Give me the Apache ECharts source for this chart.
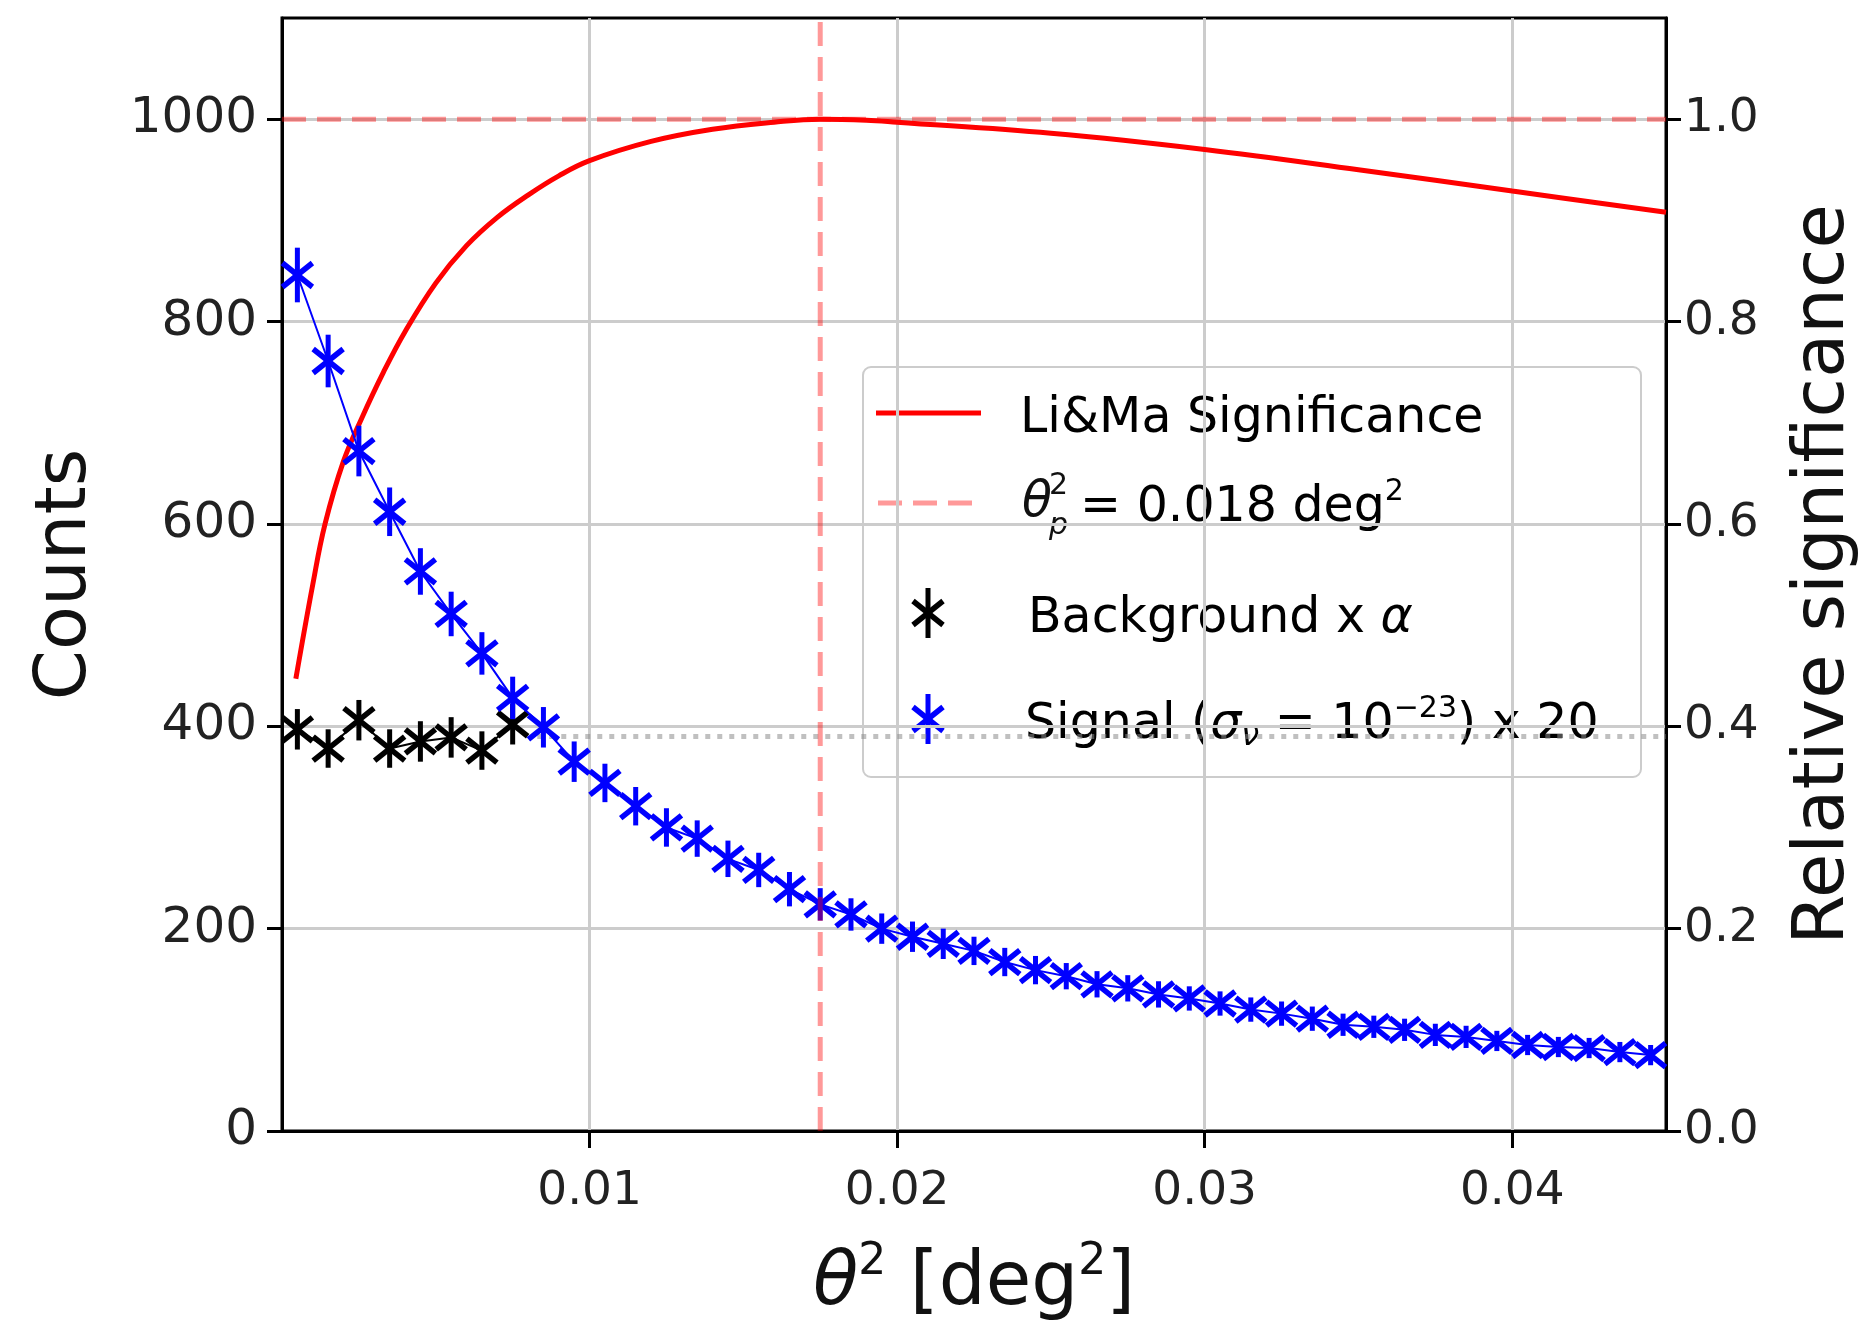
<!DOCTYPE html>
<html>
<head>
<meta charset="utf-8">
<script src="https://cdn.jsdelivr.net/npm/echarts@6/dist/echarts.min.js"></script>
<style>
html,body{margin:0;padding:0;background:#fff;}
#chart{width:1869px;height:1335px;}
</style>
</head>
<body>
<div id="chart"></div>
<script>
// ---- data ----
const binCenters = [0.0005,0.0015,0.0025,0.0035,0.0045,0.0055,0.0065,0.0075,0.0085,0.0095,
  0.0105,0.0115,0.0125,0.0135,0.0145,0.0155,0.0165,0.0175,0.0185,0.0195,
  0.0205,0.0215,0.0225,0.0235,0.0245,0.0255,0.0265,0.0275,0.0285,0.0295,
  0.0305,0.0315,0.0325,0.0335,0.0345,0.0355,0.0365,0.0375,0.0385,0.0395,
  0.0405,0.0415,0.0425,0.0435,0.0445];
const signalCounts = [846,761,672,612,553,511,472,428,399,365,
  344,321,300,289,269,258,239,224,214,200,
  192,185,178,167,159,153,145,141,135,131,
  126,120,116,111,105,103,100,95,93,89,
  85,83,82,78,75];
const signalErrors = [27,26,25,24,23,22,21,21,20,20,
  19,19,19,18,18,17,17,16,16,15,
  15,15,14,14,14,13,13,13,13,12,
  12,12,12,12,11,11,11,11,11,10,
  10,10,10,10,10];
const bkgCenters = [0.0005,0.0015,0.0025,0.0035,0.0045,0.0055,0.0065,0.0075];
const bkgCounts = [397,378,406,378,385,389,376,402];
const bkgErrors = [20,19,20,19,20,20,19,20];
const lmX = [0.00045,0.001,0.0014,0.002,0.0026,0.0033,0.004,0.005,0.006,0.007,0.008,0.009,0.010,0.012,0.014,0.016,0.0175,0.019,0.020,0.025,0.030,0.035,0.040,0.045];
const lmY = [0.447,0.540,0.600,0.662,0.705,0.750,0.790,0.838,0.875,0.903,0.925,0.944,0.959,0.978,0.990,0.997,1.0,0.999,0.997,0.986,0.970,0.950,0.929,0.908];
const thetaCut = 0.0175;
const refLevel = 1.0;
const bkgLevel = 390;
const bkgLevelStart = 0.0083;
const xTicks = [0.01,0.02,0.03,0.04];
const countTicks = [0,200,400,600,800,1000];
const relTicks = [0,0.2,0.4,0.6,0.8,1.0];
const xMin = 0, xMax = 0.045, countMax = 1100, relMax = 1.1;

const FONT = 'DejaVu Sans';
const chart = echarts.init(document.getElementById('chart'));

function starRenderer(color) {
  return function (params, api) {
    const x = api.value(0), y = api.value(1), e = api.value(2);
    const p = api.coord([x, y]);
    const t = api.coord([x, y + e]);
    const b = api.coord([x, y - e]);
    const hw = 15, hh = 12;
    const st = {stroke: color, lineWidth: 5.5};
    return {type: 'group', children: [
      {type: 'line', shape: {x1: p[0], y1: t[1], x2: p[0], y2: b[1]}, style: {stroke: color, lineWidth: 5}},
      {type: 'line', shape: {x1: p[0]-hw, y1: p[1]-hh, x2: p[0]+hw, y2: p[1]+hh}, style: st},
      {type: 'line', shape: {x1: p[0]-hw, y1: p[1]+hh, x2: p[0]+hw, y2: p[1]-hh}, style: st}
    ]};
  };
}
function iconStar(cx, cy, color) {
  const hw = 15, hh = 12, e = 25;
  return [
    {type: 'line', shape: {x1: cx, y1: cy-e, x2: cx, y2: cy+e}, style: {stroke: color, lineWidth: 5}},
    {type: 'line', shape: {x1: cx-hw, y1: cy-hh, x2: cx+hw, y2: cy+hh}, style: {stroke: color, lineWidth: 5.5}},
    {type: 'line', shape: {x1: cx-hw, y1: cy+hh, x2: cx+hw, y2: cy-hh}, style: {stroke: color, lineWidth: 5.5}}
  ];
}
const legRich = {
  n: {fontSize: 49, fontFamily: FONT, color: '#111', padding: [20,0,0,0], verticalAlign: 'top'},
  i: {fontSize: 49, fontFamily: FONT, fontStyle: 'italic', color: '#111', padding: [20,0,0,0], verticalAlign: 'top'},
  s: {fontSize: 30, fontFamily: FONT, color: '#111', padding: [13,0,0,0], verticalAlign: 'top'},
  b: {fontSize: 32, fontFamily: FONT, fontStyle: 'italic', color: '#111', padding: [40,0,0,0], verticalAlign: 'top'}
};
function richText(x, yCenter, text) {
  return {type: 'text', x: x, y: yCenter - 38, style: {text: text, rich: legRich, verticalAlign: 'top', align: 'left'}};
}

const option = {
  animation: false,
  backgroundColor: '#ffffff',
  textStyle: {fontFamily: FONT},
  grid: {left: 282, right: 203, top: 18, bottom: 204, show: true, borderColor: '#000', borderWidth: 3, backgroundColor: 'transparent', outerBoundsMode: 'none', containLabel: false},
  xAxis: {
    type: 'value', min: xMin, max: xMax, interval: 0.01,
    name: '{i|θ}{s|2}{n| [deg}{s|2}{n|]}',
    nameLocation: 'middle', nameGap: 110, nameMoveOverlap: false,
    nameTextStyle: {rich: {
      i: {fontSize: 74, fontFamily: FONT, fontStyle: 'italic', color: '#111', padding: [7,0,0,0], verticalAlign: 'top'},
      n: {fontSize: 74, fontFamily: FONT, color: '#111', padding: [7,0,0,0], verticalAlign: 'top'},
      s: {fontSize: 44, fontFamily: FONT, color: '#111', padding: [0,0,0,0], verticalAlign: 'top'}
    }},
    axisLine: {show: true, onZero: false, lineStyle: {color: '#000', width: 3}},
    axisTick: {show: true, inside: false, length: 17, lineStyle: {color: '#000', width: 3}, customValues: xTicks},
    axisLabel: {show: true, margin: 37, fontSize: 47, fontFamily: FONT, color: '#222', customValues: xTicks,
      formatter: v => (v > 0.001 && v < 0.0449) ? v.toFixed(2) : ''},
    splitLine: {show: true, lineStyle: {color: '#cccccc', width: 3}}
  },
  yAxis: [
    {
      type: 'value', min: 0, max: countMax, interval: 200, position: 'left',
      name: 'Counts', nameLocation: 'middle', nameRotate: 90, nameGap: 180, nameMoveOverlap: false,
      nameTextStyle: {fontSize: 72, fontFamily: FONT, color: '#111'},
      axisLine: {show: true, onZero: false, lineStyle: {color: '#000', width: 3}},
      axisTick: {show: true, inside: false, length: 15, lineStyle: {color: '#000', width: 3}, customValues: countTicks},
      axisLabel: {show: true, margin: 25, fontSize: 50, fontFamily: FONT, color: '#222', customValues: countTicks,
        formatter: v => v <= 1000 ? String(v) : ''},
      splitLine: {show: true, lineStyle: {color: '#cccccc', width: 3}}
    },
    {
      type: 'value', min: 0, max: relMax, interval: 0.2, position: 'right',
      name: 'Relative significance', nameLocation: 'middle', nameRotate: 90, nameGap: 122, nameMoveOverlap: false,
      nameTextStyle: {fontSize: 72, fontFamily: FONT, color: '#111'},
      axisLine: {show: true, onZero: false, lineStyle: {color: '#000', width: 3}},
      axisTick: {show: true, inside: false, length: 15, lineStyle: {color: '#000', width: 3}, customValues: relTicks},
      axisLabel: {show: true, margin: 18, fontSize: 47, fontFamily: FONT, color: '#222', customValues: relTicks,
        formatter: v => v <= 1.0001 ? v.toFixed(1) : ''},
      splitLine: {show: false}
    }
  ],
  series: [
    {
      name: 'bkg level', type: 'line', z: 2, symbol: 'none', silent: true,
      data: [[bkgLevelStart, bkgLevel], [xMax, bkgLevel]],
      lineStyle: {color: 'rgba(140,140,140,0.55)', width: 5, type: [5, 7]}
    },
    {
      name: 'Li&Ma Significance', type: 'line', yAxisIndex: 1, z: 3, symbol: 'none', smooth: 0.4,
      data: lmX.map((x, i) => [x, lmY[i]]),
      lineStyle: {color: '#ff0000', width: 5}, itemStyle: {color: '#ff0000'}
    },
    {
      name: 'Background x α', type: 'line', z: 4, symbol: 'none',
      data: bkgCenters.map((x, i) => [x, bkgCounts[i]]),
      lineStyle: {color: '#000', width: 2}, itemStyle: {color: '#000'}
    },
    {
      name: 'Background x α', type: 'custom', z: 5,
      data: bkgCenters.map((x, i) => [x, bkgCounts[i], bkgErrors[i]]),
      encode: {x: 0, y: 1},
      renderItem: starRenderer('#000000'), itemStyle: {color: '#000'}
    },
    {
      name: 'Signal', type: 'line', z: 6, symbol: 'none',
      data: binCenters.map((x, i) => [x, signalCounts[i]]),
      lineStyle: {color: '#0000ff', width: 2}, itemStyle: {color: '#0000ff'}
    },
    {
      name: 'Signal', type: 'custom', z: 7,
      data: binCenters.map((x, i) => [x, signalCounts[i], signalErrors[i]]),
      encode: {x: 0, y: 1},
      renderItem: starRenderer('#0000ff'), itemStyle: {color: '#0000ff'}
    },
    {
      name: 'theta cut', type: 'line', z: 8, symbol: 'none',
      data: [[thetaCut, 0], [thetaCut, countMax]],
      lineStyle: {color: 'rgba(255,0,0,0.4)', width: 5, type: [24, 11]}
    },
    {
      name: 'theta cut', type: 'line', yAxisIndex: 1, z: 8, symbol: 'none',
      data: [[xMin, refLevel], [xMax, refLevel]],
      lineStyle: {color: 'rgba(255,0,0,0.4)', width: 5, type: [24, 11]}
    }
  ],
  graphic: [
    {type: 'group', z: 100, children: [
      {type: 'rect', shape: {x: 863, y: 367, width: 778, height: 410, r: 8}, style: {fill: 'rgba(255,255,255,0.8)', stroke: '#cccccc', lineWidth: 2}},
      {type: 'line', shape: {x1: 876, y1: 413, x2: 981, y2: 413}, style: {stroke: '#ff0000', lineWidth: 5}},
      richText(1020, 413, '{n|Li&Ma Significance}'),
      {type: 'line', shape: {x1: 878, y1: 503, x2: 981, y2: 503}, style: {stroke: 'rgba(255,0,0,0.4)', lineWidth: 5, lineDash: [24, 11]}},
      {type: 'text', x: 1022, y: 503, style: {text: 'θ', fontSize: 49, fontFamily: FONT, fontStyle: 'italic', fill: '#111', verticalAlign: 'middle'}},
      {type: 'text', x: 1049, y: 486, style: {text: '2', fontSize: 30, fontFamily: FONT, fill: '#111', verticalAlign: 'middle'}},
      {type: 'text', x: 1049, y: 526, style: {text: 'p', fontSize: 30, fontFamily: FONT, fontStyle: 'italic', fill: '#111', verticalAlign: 'middle'}},
      richText(1080, 502, '{n|= 0.018 deg}{s|2}'),
      ...iconStar(928, 613, '#000000'),
      richText(1028, 613, '{n|Background x }{i|α}'),
      ...iconStar(928, 719, '#0000ff'),
      richText(1025, 719, '{n|Signal (}{i|σ}{b|ν}{n| = 10}{s|−23}{n|) x 20}')
    ]}
  ]
};
chart.setOption(option);
</script>
</body>
</html>
